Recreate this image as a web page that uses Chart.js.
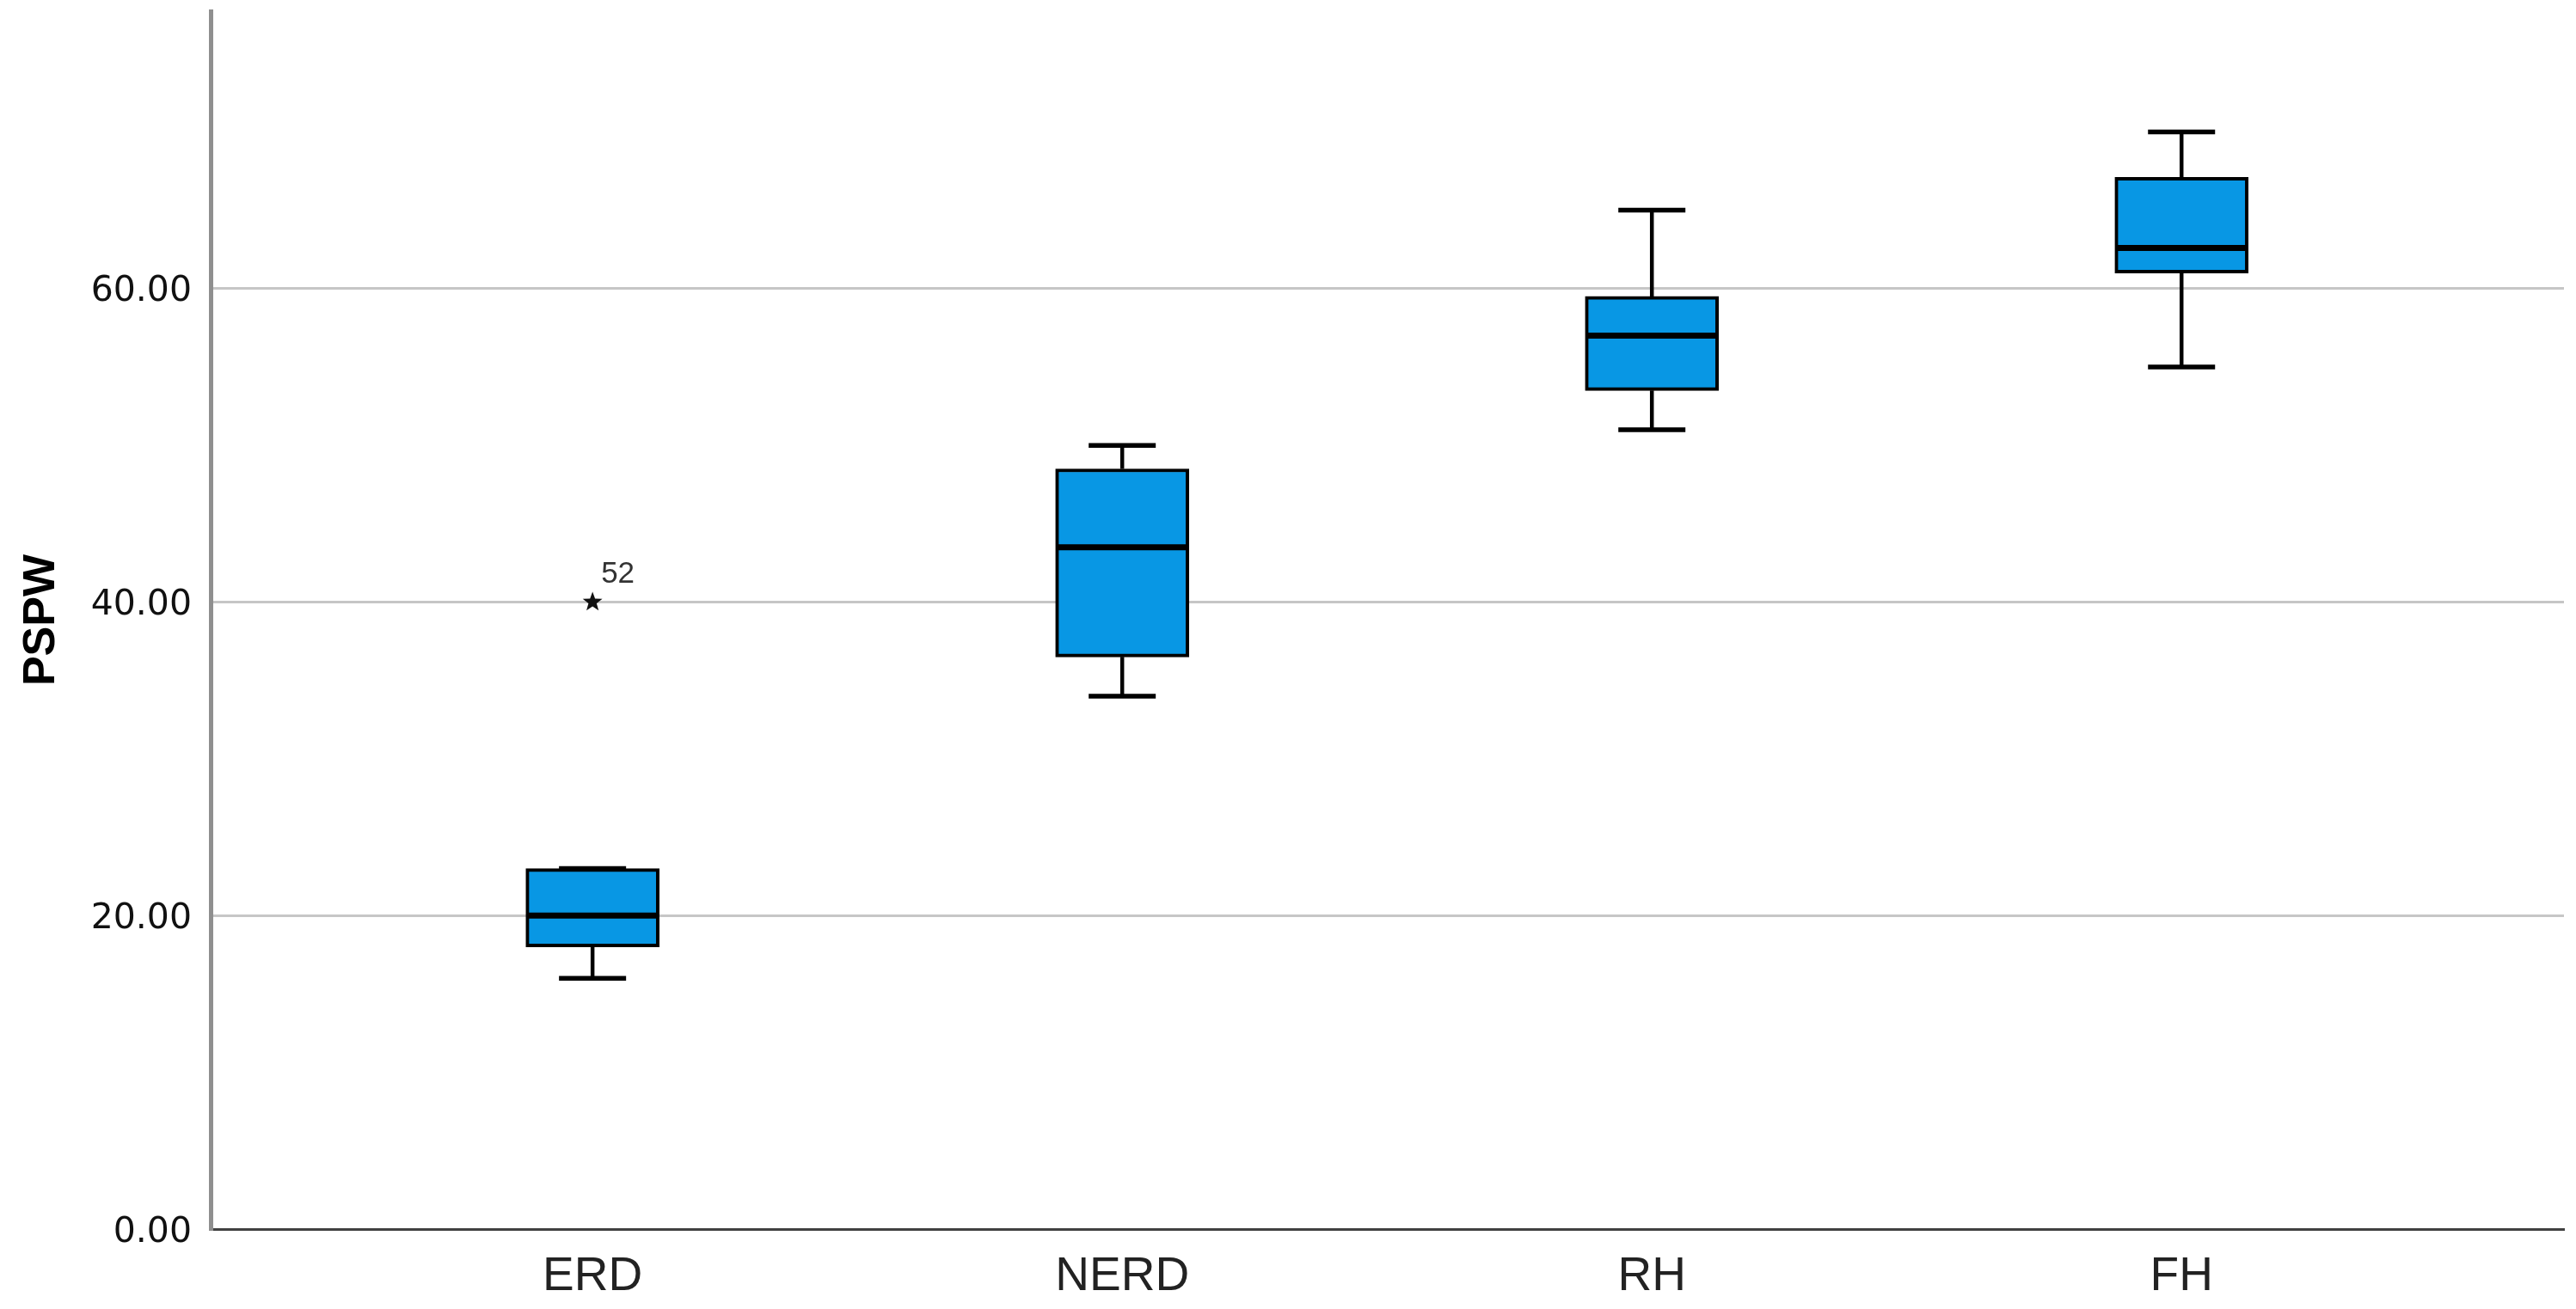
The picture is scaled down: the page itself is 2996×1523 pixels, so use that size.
<!DOCTYPE html>
<html><head><meta charset="utf-8">
<script src="https://cdn.jsdelivr.net/npm/chart.js@4"></script>
<style>html,body{margin:0;padding:0;background:#fff;overflow:hidden}#wrap{width:2996px;height:1523px;position:relative}</style>
</head><body><div id="wrap"><canvas id="c"></canvas></div>
<script>
const categories = ['ERD', 'NERD', 'RH', 'FH'];
const whiskerLow = [16, 34, 51, 55];
const q1 = [18, 36.5, 53.5, 61];
const medians = [20, 43.5, 57, 62.6];
const q3 = [23, 48.5, 59.5, 67.1];
const whiskerHigh = [23, 50, 65, 70];
const outlierCategory = [0];
const outlierValues = [40];
const outlierLabels = ['52'];
const yTicks = [0, 20, 40, 60];
const yMin = 0;
const yMax = 77.7;
const yTitle = 'PSPW';

const boxData = categories.map((c, i) => ({ x: i, y: [q1[i], q3[i]] }));

const boxExtras = {
  id: 'boxExtras',
  afterDatasetsDraw(chart) {
    const { ctx, scales: { x, y } } = chart;
    ctx.save();
    ctx.strokeStyle = '#000';
    ctx.lineCap = 'butt';
    const capHalf = 39;
    const boxHalf = 76.5;
    categories.forEach((c, i) => {
      const cx = x.getPixelForValue(i);
      const pHi = y.getPixelForValue(whiskerHigh[i]);
      const pLo = y.getPixelForValue(whiskerLow[i]);
      const pQ1 = y.getPixelForValue(q1[i]);
      const pQ3 = y.getPixelForValue(q3[i]);
      const pMed = y.getPixelForValue(medians[i]);
      ctx.lineWidth = 4.5;
      ctx.beginPath();
      ctx.moveTo(cx, pQ3); ctx.lineTo(cx, pHi);
      ctx.moveTo(cx, pQ1); ctx.lineTo(cx, pLo);
      ctx.stroke();
      ctx.lineWidth = 5.5;
      ctx.beginPath();
      ctx.moveTo(cx - capHalf, pHi); ctx.lineTo(cx + capHalf, pHi);
      ctx.moveTo(cx - capHalf, pLo); ctx.lineTo(cx + capHalf, pLo);
      ctx.stroke();
      ctx.lineWidth = 7;
      ctx.beginPath();
      ctx.moveTo(cx - boxHalf, pMed); ctx.lineTo(cx + boxHalf, pMed);
      ctx.stroke();
    });
    outlierValues.forEach((v, k) => {
      const cx = x.getPixelForValue(outlierCategory[k]);
      const cy = y.getPixelForValue(v);
      ctx.fillStyle = '#111';
      ctx.beginPath();
      const ro = 12, ri = 5;
      for (let j = 0; j < 10; j++) {
        const r = j % 2 === 0 ? ro : ri;
        const a = -Math.PI / 2 + j * Math.PI / 5;
        const px = cx + r * Math.cos(a), py = cy + r * Math.sin(a);
        if (j === 0) ctx.moveTo(px, py); else ctx.lineTo(px, py);
      }
      ctx.closePath();
      ctx.fill();
      ctx.fillStyle = '#333';
      ctx.font = '35px "Liberation Sans", Arial, sans-serif';
      ctx.textAlign = 'left';
      ctx.textBaseline = 'middle';
      ctx.fillText(outlierLabels[k], cx + 10, cy - 32);
    });
    ctx.restore();
  }
};

new Chart(document.getElementById('c'), {
  type: 'bar',
  data: {
    datasets: [{
      data: boxData,
      backgroundColor: '#0897E4',
      borderColor: '#000',
      borderWidth: 4,
      borderSkipped: false,
      barThickness: 155
    }]
  },
  options: {
    responsive: true,
    maintainAspectRatio: false,
    devicePixelRatio: 1,
    animation: false,
    layout: { padding: { top: 13, right: 14, left: 0, bottom: 0 } },
    plugins: { legend: { display: false }, tooltip: { enabled: false } },
    scales: {
      x: {
        type: 'linear',
        offset: false,
        min: -0.721,
        max: 3.722,
        afterBuildTicks: (s) => { s.ticks = categories.map((c, i) => ({ value: i })); },
        afterFit: (s) => { s.height = 93; s.paddingLeft = 0; s.paddingRight = 0; },
        ticks: {
          callback: (v) => categories[v],
          font: { family: '"Liberation Sans", Arial, sans-serif', size: 55 },
          color: '#222',
          padding: 23,
          maxRotation: 0,
          autoSkip: false
        },
        grid: { display: false, drawTicks: false },
        border: { display: true, color: '#404040', width: 3 }
      },
      y: {
        type: 'linear',
        min: yMin,
        max: yMax,
        afterBuildTicks: (s) => { s.ticks = yTicks.map(v => ({ value: v })); },
        afterFit: (s) => { s.width = 245; s.paddingTop = 0; s.paddingBottom = 0; },
        ticks: {
          callback: (v) => Number(v).toFixed(2),
          font: { family: '"DejaVu Sans", sans-serif', size: 41 },
          color: '#111',
          padding: 22,
          labelOffset: 4
        },
        grid: { color: '#c6c6c6', lineWidth: 3, drawTicks: false },
        border: { display: true, color: '#8f8f8f', width: 5 },
        title: {
          display: true,
          text: yTitle,
          font: { family: '"Liberation Sans", Arial, sans-serif', size: 52, weight: 'bold' },
          color: '#000',
          padding: { top: 17, bottom: 0 }
        }
      }
    }
  },
  plugins: [boxExtras]
});
</script>
</body></html>
